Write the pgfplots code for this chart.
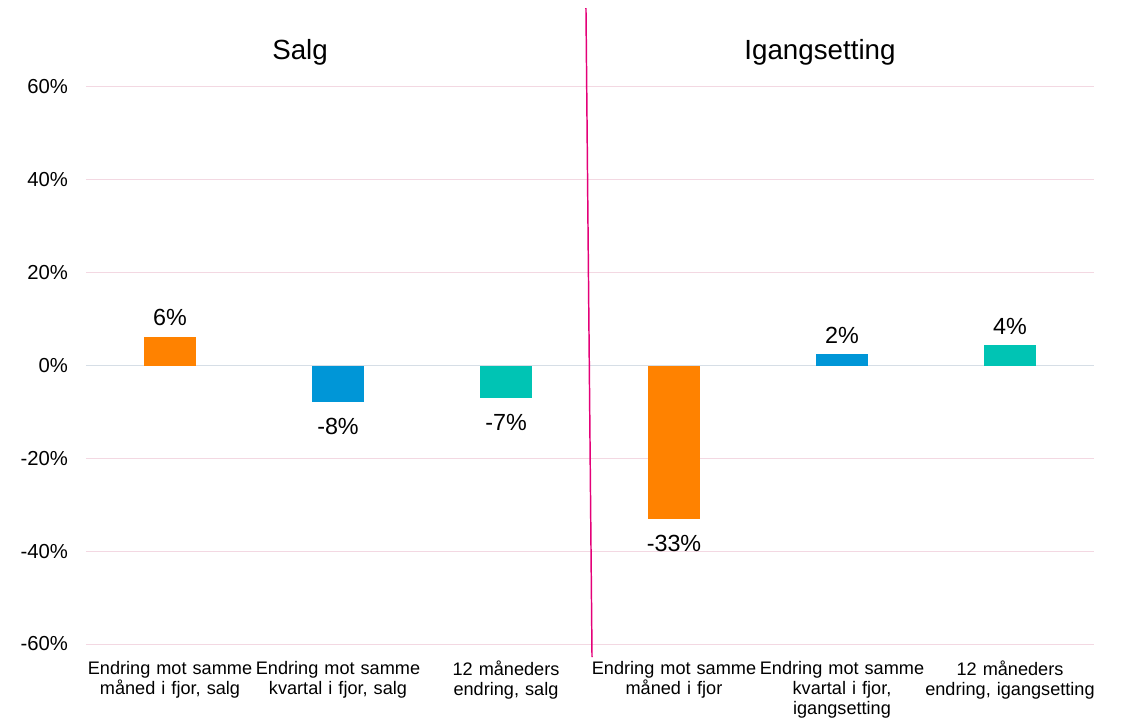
\documentclass[border=0pt]{standalone}
\usepackage{fontspec}
\setmainfont{Liberation Sans}
\usepackage{pgfplots}
\pgfplotsset{compat=1.18}
\definecolor{cOrange}{RGB}{255,130,0}
\definecolor{cBlue}{RGB}{0,150,215}
\definecolor{cTeal}{RGB}{0,196,180}
\definecolor{cGrid}{RGB}{243,216,226}
\definecolor{cZero}{RGB}{214,222,230}
\definecolor{cSep}{RGB}{228,0,120}
\begin{document}
\begin{tikzpicture}
\begin{axis}[
  scale only axis,
  width=756pt, height=417.75pt,
  xmin=-0.5, xmax=5.5,
  ymin=-60, ymax=60,
  clip=false,
  axis line style={draw=none},
  tick style={draw=none},
  ymajorgrids,
  grid style={cGrid, line width=0.75pt},
  ytick={-60,-40,-20,0,20,40,60},
  yticklabels={-60\%,-40\%,-20\%,0\%,20\%,40\%,60\%},
  yticklabel style={font=\fontsize{15.2}{18}\selectfont, xshift=-10pt},
  xtick={0,1,2,3,4,5},
  xticklabels={{Endring mot samme\\måned i fjor, salg},{Endring mot samme\\kvartal i fjor, salg},{12 måneders\\endring, salg},{Endring mot samme\\måned i fjor},{Endring mot samme\\kvartal i fjor,\\igangsetting},{12 måneders\\endring, igangsetting}},
  xticklabel style={font=\fontsize{13.6}{15}\selectfont, align=center, text width=136pt, yshift=-5pt},
  extra y ticks={0},
  extra y tick labels={},
  extra y tick style={grid style={cZero, line width=1pt}},
  ybar,
  bar width=39pt,
  bar shift=0pt,
  point meta=explicit symbolic,
  nodes near coords={\pgfplotspointmeta},
  every node near coord/.append style={font=\fontsize{17.5}{20}\selectfont, inner sep=8pt},
  pos/.style={every node near coord/.append style={anchor=south}},
  neg/.style={every node near coord/.append style={anchor=north, inner sep=12pt}},
]
\addplot[fill=cOrange, draw=none, pos] coordinates {(0,6.2) [6\%]};
\addplot[fill=cOrange, draw=none, neg] coordinates {(3,-33.0) [-33\%]};
\addplot[fill=cBlue, draw=none, neg] coordinates {(1,-7.9) [-8\%]};
\addplot[fill=cBlue, draw=none, pos] coordinates {(4,2.4) [2\%]};
\addplot[fill=cTeal, draw=none, neg] coordinates {(2,-7.1) [-7\%]};
\addplot[fill=cTeal, draw=none, pos] coordinates {(5,4.4) [4\%]};
\draw[cSep, line width=1.1pt] (axis cs:2.476,77.0) -- (axis cs:2.512,-62.8);
\node[font=\fontsize{20.8}{24}\selectfont] at (axis cs:0.774,67.5) {Salg};
\node[font=\fontsize{20.8}{24}\selectfont] at (axis cs:3.869,67.5) {Igangsetting};
\path (rel axis cs:0,0) ++(-64.5pt,-57pt) rectangle ++(0.1pt,0.1pt);
\path (rel axis cs:1,1) ++(21pt,65.25pt) rectangle ++(-0.1pt,-0.1pt);
\end{axis}
\end{tikzpicture}
\end{document}
